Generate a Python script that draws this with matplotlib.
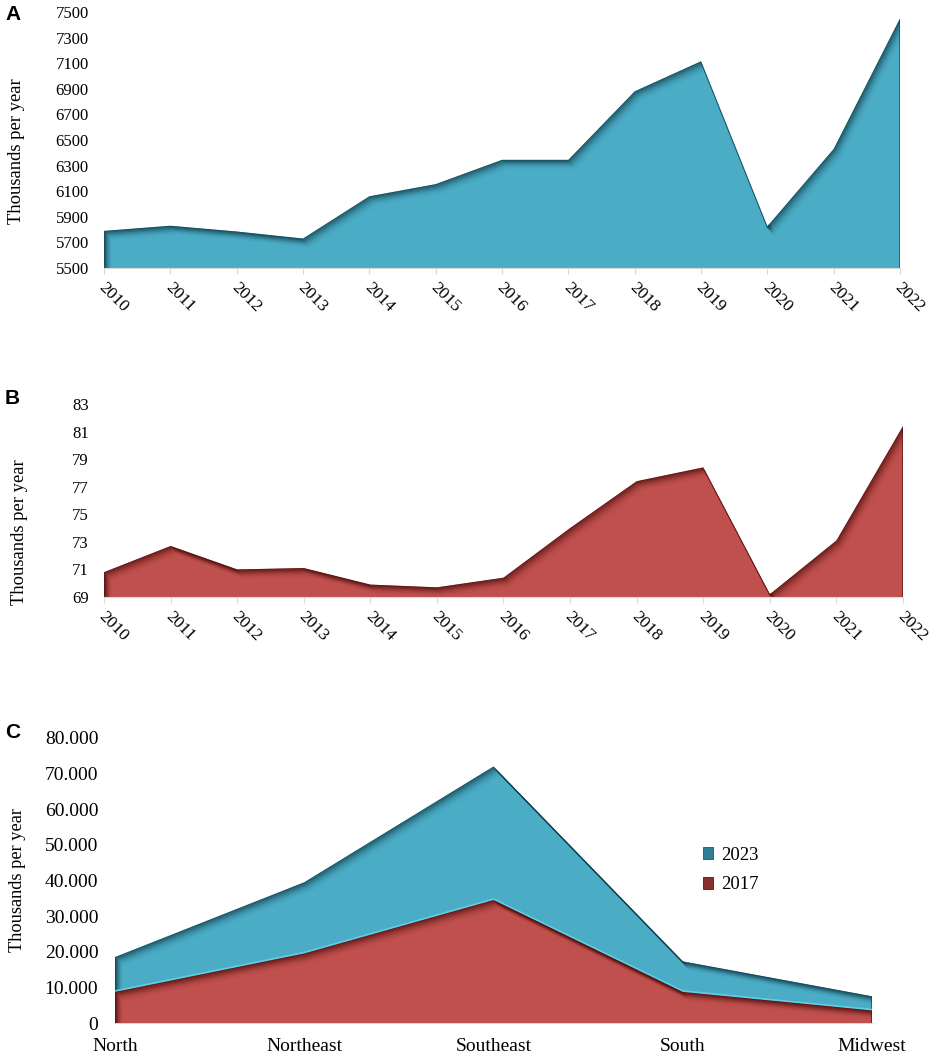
import numpy as np
import matplotlib
matplotlib.use("Agg")
import matplotlib.pyplot as plt
from matplotlib.patches import Patch
from matplotlib.transforms import Affine2D

years = [2010, 2011, 2012, 2013, 2014, 2015, 2016, 2017, 2018, 2019, 2020, 2021, 2022]
brazil_a = [5790, 5830, 5785, 5730, 6060, 6155, 6345, 6345, 6880, 7115, 5825, 6430, 7450]
brazil_b = [70.8, 72.7, 71.0, 71.1, 69.9, 69.7, 70.4, 74.0, 77.4, 78.4, 69.2, 73.1, 81.4]
yticks_a = list(range(5500, 7501, 200))
yticks_b = list(range(69, 84, 2))

regions = ["North", "Northeast", "Southeast", "South", "Midwest"]
values_2023 = [18500, 39500, 72000, 17300, 7500]
values_2017 = [8700, 19500, 34500, 8700, 3500]
yticks_c = [0, 10000, 20000, 30000, 40000, 50000, 60000, 70000, 80000]

BLUE = "#4BACC6"
BLUE_DARK = "#0F3A46"
RED = "#C0504D"
RED_DARK = "#4A0C0A"

plt.rcParams["font.family"] = ["Liberation Serif", "DejaVu Serif"]

W, H = 935, 1061
fig = plt.figure(figsize=(W / 100, H / 100), dpi=100)


def make_axes(left, right, top, bottom):
    return fig.add_axes([left / W, 1 - bottom / H, (right - left) / W, (bottom - top) / H])


def area(ax, x, y, base, color, dark, z=2):
    xs = [x[0]] + list(x) + [x[-1]]
    ys = [base] + list(y) + [base]
    poly = ax.fill(xs, ys, color=color, lw=0, zorder=z)[0]
    # inner shadow: outline shifted down and right in pixels, kept inside the area
    for k in range(10):
        tr = ax.transData + Affine2D().translate(k * 0.85, -k * 1.0)
        line, = ax.plot(xs, ys, color=dark, lw=1.4, alpha=0.62 * (1 - k / 10) ** 2.2,
                        transform=tr, zorder=z + 0.5, solid_joinstyle="miter")
        line.set_clip_path(poly)
    return poly


def style(ax, ticks, size):
    for s in ["top", "right", "left"]:
        ax.spines[s].set_visible(False)
    ax.spines["bottom"].set_color("#D9D9D9")
    ax.set_yticks(ticks)
    ax.tick_params(axis="y", length=0, labelsize=size)


def year_axis(left, right, top, bottom, values, ticks, label_y):
    ax = make_axes(left, right, top, bottom)
    x = np.arange(len(years))
    color, dark = (BLUE, BLUE_DARK) if ticks is yticks_a else (RED, RED_DARK)
    area(ax, x, values, ticks[0], color, dark)
    ax.set_xlim(0, len(years) - 1)
    ax.set_ylim(ticks[0], ticks[-1])
    style(ax, ticks, 12)
    ax.tick_params(axis="y", pad=11)
    ax.set_xticks(x)
    ax.set_xticklabels(years, rotation=-45, ha="left", va="top", rotation_mode="anchor", fontsize=12.5)
    ax.tick_params(axis="x", length=4, color="#D9D9D9", pad=4)
    shift = Affine2D().translate(3, 0)
    for lab in ax.get_xticklabels():
        lab.set_transform(lab.get_transform() + shift)
    fig.text(label_y[0] / W, 1 - label_y[1] / H, "Thousands per year", rotation=90,
             ha="center", va="center", fontsize=13.4)
    return ax


ax_a = year_axis(104, 900, 12, 268, brazil_a, yticks_a, (17, 151))
ax_b = year_axis(104, 903, 404, 597, brazil_b, yticks_b, (20, 532))

# panel C, the two years are drawn over each other
ax_c = make_axes(115, 872, 738, 1023)
x_c = np.arange(len(regions))
area(ax_c, x_c, values_2023, 0, BLUE, BLUE_DARK)
ax_c.plot(x_c, values_2017, color="#5CD0EA", lw=1.2, zorder=4,
          transform=ax_c.transData + Affine2D().translate(0, 1))
area(ax_c, x_c, values_2017, 0, RED, RED_DARK, z=5)
ax_c.set_xlim(0, len(regions) - 1)
ax_c.set_ylim(0, 80000)
style(ax_c, yticks_c, 14)
ax_c.tick_params(axis="y", pad=12)
ax_c.set_yticklabels(["0"] + [f"{v // 1000}.000" for v in yticks_c[1:]])
ax_c.set_xticks(x_c)
ax_c.set_xticklabels(regions, fontsize=14)
ax_c.tick_params(axis="x", length=0, pad=11)
ax_c.spines["bottom"].set_color("#E6CFCF")
fig.text(18 / W, 1 - 880 / H, "Thousands per year", rotation=90, ha="center", va="center", fontsize=13.2)

handles = [Patch(facecolor="#2F7F96", edgecolor="#1B5566", lw=0.6),
           Patch(facecolor="#8A2F2D", edgecolor="#5A1513", lw=0.6)]
ax_c.legend(handles, ["2023", "2017"], loc="upper left", bbox_to_anchor=(688 / W, 1 - 832 / H),
            bbox_transform=fig.transFigure, frameon=False, fontsize=13.5, handlelength=0.55,
            handleheight=0.6, handletextpad=0.4, labelspacing=0.65, borderpad=0.3)

for letter, py in zip("ABC", [15, 398, 732]):
    fig.text(5 / W, 1 - py / H, letter, ha="left", va="center", fontsize=15, fontweight="bold",
             family=["Liberation Sans", "DejaVu Sans"])

fig.savefig("out.png", dpi=100, facecolor="white")
